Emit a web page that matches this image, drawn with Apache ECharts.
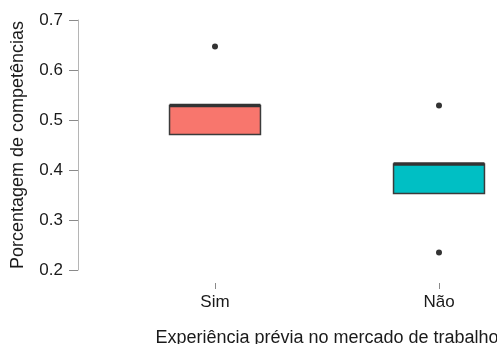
<!DOCTYPE html>
<html>
<head>
<meta charset="utf-8">
<script src="https://cdn.jsdelivr.net/npm/echarts@6/dist/echarts.min.js"></script>
<style>
  html, body { margin: 0; padding: 0; background: #ffffff; }
  #chart { width: 497px; height: 344px; }
</style>
</head>
<body>
<div id="chart"></div>
<script>
// Groups on the horizontal axis
const categories = ['Sim', 'Não'];
// Box statistics per group: lower quartile, median, upper quartile
const lowerQuartile = [0.471, 0.353];
const medians = [0.529, 0.412];
const upperQuartile = [0.529, 0.412];
// Points outside the whiskers, as [group index, value]
const outliers = [[0, 0.647], [1, 0.529], [1, 0.235]];
// Fill colour of each box
const boxColors = ['#F8766D', '#00BFC4'];
// Vertical axis ticks
const yTicks = [0.2, 0.3, 0.4, 0.5, 0.6, 0.7];

const FONT = 'Liberation Sans, Arial, sans-serif';
const boxData = categories.map((c, i) => [i, lowerQuartile[i], medians[i], upperQuartile[i]]);

function renderBox(params, api) {
  const i = api.value(0);
  const band = api.size([1, 0])[0];
  const half = band * 0.203;
  const top = api.coord([i, api.value(3)]);
  const bottom = api.coord([i, api.value(1)]);
  const med = api.coord([i, api.value(2)]);
  return {
    type: 'group',
    children: [
      {
        type: 'rect',
        shape: { x: top[0] - half, y: top[1], width: half * 2, height: bottom[1] - top[1] },
        style: { fill: boxColors[i], stroke: '#3b3b3b', lineWidth: 1.5 }
      },
      {
        type: 'line',
        shape: { x1: med[0] - half, y1: med[1], x2: med[0] + half, y2: med[1] },
        style: { stroke: '#333333', lineWidth: 3.5 }
      }
    ]
  };
}

const chart = echarts.init(document.getElementById('chart'), null, { renderer: 'canvas' });
chart.setOption({
  animation: false,
  backgroundColor: '#ffffff',
  grid: { left: 103, top: 20, width: 448, height: 250, containLabel: false, outerBoundsMode: 'none' },
  xAxis: {
    type: 'category',
    data: categories,
    boundaryGap: true,
    offset: 13,
    axisLine: { show: false },
    axisTick: { show: true, alignWithLabel: true, length: 6, lineStyle: { color: '#8a8a8a', width: 1 } },
    axisLabel: { color: '#1a1a1a', fontFamily: FONT, fontSize: 17, margin: 11 },
    splitLine: { show: false },
    name: 'Experiência prévia no mercado de trabalho',
    nameLocation: 'middle',
    nameGap: 46,
    nameTextStyle: { color: '#1a1a1a', fontFamily: FONT, fontSize: 18 }
  },
  yAxis: {
    type: 'value',
    min: yTicks[0],
    max: yTicks[yTicks.length - 1],
    interval: 0.1,
    offset: 25,
    axisLine: { show: true, lineStyle: { color: '#b5b5b5', width: 1 } },
    axisTick: { show: true, length: 9, lineStyle: { color: '#8a8a8a', width: 1 } },
    axisLabel: { color: '#1a1a1a', fontFamily: FONT, fontSize: 17, margin: 15, formatter: v => v.toFixed(1) },
    splitLine: { show: false },
    name: 'Porcentagem de competências',
    nameLocation: 'middle',
    nameGap: 51,
    nameTextStyle: { color: '#1a1a1a', fontFamily: FONT, fontSize: 18 }
  },
  series: [
    {
      type: 'custom',
      renderItem: renderBox,
      data: boxData,
      encode: { x: 0, y: [1, 2, 3] },
      clip: false
    },
    {
      type: 'scatter',
      data: outliers,
      symbol: 'circle',
      symbolSize: 6,
      itemStyle: { color: '#000000' }
    }
  ]
});
</script>
</body>
</html>
